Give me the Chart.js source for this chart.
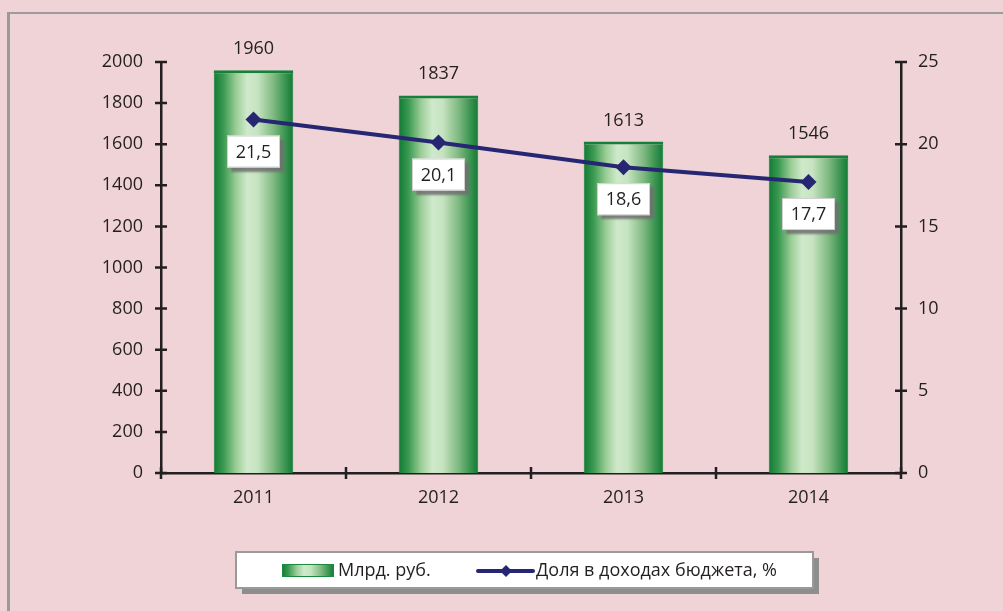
<!DOCTYPE html>
<html>
<head>
<meta charset="utf-8">
<script src="https://cdn.jsdelivr.net/npm/chart.js@4"></script>
<style>
html,body{margin:0;padding:0;background:#efd3d6;}
canvas{display:block;}
</style>
</head>
<body>
<canvas id="c" width="1003" height="611"></canvas>
<script>
const categories = ['2011', '2012', '2013', '2014'];
const billionsRub = [1960, 1837, 1613, 1546];
const sharePct = [21.5, 20.1, 18.6, 17.7];
const barLabel = 'Млрд. руб.';
const lineLabel = 'Доля в доходах бюджета, %';

const FONT = '"Open Sans", "Liberation Sans", sans-serif';
const FS = 18;
const TXT = '#231f20';
const AXIS = '#231f20';
const BG = '#efd3d6';
const NAVY = '#262673';
const BAR_PCT = 0.43;

function fmt(v){ return String(v).replace('.', ','); }

function barGradient(ctx, x0, x1){
  const g = ctx.createLinearGradient(x0, 0, x1, 0);
  g.addColorStop(0, '#117a35');
  g.addColorStop(0.12, '#399850');
  g.addColorStop(0.28, '#9acd96');
  g.addColorStop(0.42, '#cfe9cb');
  g.addColorStop(0.55, '#c6e4c0');
  g.addColorStop(0.75, '#80b982');
  g.addColorStop(0.9, '#3a9450');
  g.addColorStop(1, '#117a35');
  return g;
}

const bgPlugin = {
  id: 'bg',
  beforeDraw(chart){
    const c = chart.ctx;
    c.save();
    c.fillStyle = BG;
    c.fillRect(0, 0, chart.width, chart.height);
    c.fillStyle = '#9c9c9c';
    c.fillRect(7, 12, chart.width, 2);
    c.fillStyle = '#9a9a9a';
    c.fillRect(7, 12, 3, chart.height);
    c.restore();
  }
};

const ticksPlugin = {
  id: 'crossTicks',
  afterDraw(chart){
    const c = chart.ctx;
    const y = chart.scales.y, y1 = chart.scales.y1, x = chart.scales.x;
    const ca = chart.chartArea;
    c.save();
    c.strokeStyle = AXIS;
    c.lineWidth = 2.5;
    c.beginPath();
    y.ticks.forEach(t => { const p = y.getPixelForValue(t.value); c.moveTo(ca.left - 6, p); c.lineTo(ca.left + 6, p); });
    y1.ticks.forEach(t => { const p = y1.getPixelForValue(t.value); c.moveTo(ca.right - 6, p); c.lineTo(ca.right + 6, p); });
    const bounds = [ca.left, ca.right];
    for (let i = 0; i < categories.length - 1; i++) {
      bounds.push((x.getPixelForValue(i) + x.getPixelForValue(i + 1)) / 2);
    }
    bounds.forEach(p => { c.moveTo(p, ca.bottom - 6); c.lineTo(p, ca.bottom + 6); });
    c.stroke();
    c.restore();
  }
};

const labelsPlugin = {
  id: 'valueLabels',
  afterDatasetsDraw(chart){
    const c = chart.ctx;
    c.save();
    c.font = FS + 'px ' + FONT;
    c.fillStyle = TXT;
    c.textAlign = 'center';
    c.textBaseline = 'alphabetic';
    chart.getDatasetMeta(0).data.forEach((el, i) => {
      c.fillText(String(billionsRub[i]), el.x, el.y - 16);
    });
    chart.getDatasetMeta(1).data.forEach((el, i) => {
      const w = 53, h = 32;
      const bx = el.x - w / 2, by = el.y + 16;
      c.save();
      c.shadowColor = 'rgba(110,110,110,0.85)';
      c.shadowOffsetX = 4;
      c.shadowOffsetY = 4;
      c.shadowBlur = 2;
      c.fillStyle = '#ffffff';
      c.fillRect(bx, by, w, h);
      c.restore();
      c.strokeStyle = '#d0d0d0';
      c.lineWidth = 1;
      c.strokeRect(bx + 0.5, by + 0.5, w - 1, h - 1);
      c.fillStyle = TXT;
      c.textBaseline = 'middle';
      c.fillText(fmt(sharePct[i]), el.x, by + h / 2 + 1);
    });
    c.restore();
  }
};

const legendPlugin = {
  id: 'customLegend',
  afterDraw(chart){
    const c = chart.ctx;
    const ds = chart.data.datasets;
    c.save();
    c.fillStyle = '#8e8e8e';
    c.fillRect(242, 558, 577, 36);
    c.fillStyle = '#ffffff';
    c.fillRect(236, 552, 577, 36);
    c.strokeStyle = '#9a9a9a';
    c.lineWidth = 2;
    c.strokeRect(236, 552, 577, 36);
    c.fillStyle = barGradient(c, 282, 334);
    c.fillRect(282, 564, 52, 13);
    c.strokeStyle = '#1a8a3e';
    c.lineWidth = 1;
    c.strokeRect(282.5, 564.5, 51, 12);
    c.font = FS + 'px ' + FONT;
    c.fillStyle = TXT;
    c.textAlign = 'left';
    c.textBaseline = 'middle';
    c.fillText(ds[0].label, 338, 571);
    c.strokeStyle = NAVY;
    c.lineWidth = 4;
    c.lineCap = 'round';
    c.beginPath();
    c.moveTo(478, 571); c.lineTo(533, 571);
    c.stroke();
    c.fillStyle = NAVY;
    c.beginPath();
    c.moveTo(506, 565); c.lineTo(512, 571); c.lineTo(506, 577); c.lineTo(500, 571); c.closePath();
    c.fill();
    c.fillStyle = TXT;
    c.fillText(ds[1].label, 536, 571);
    c.restore();
  }
};

new Chart(document.getElementById('c'), {
  type: 'bar',
  data: {
    labels: categories,
    datasets: [
      {
        type: 'bar',
        label: barLabel,
        data: billionsRub,
        yAxisID: 'y',
        order: 1,
        categoryPercentage: 1,
        barPercentage: BAR_PCT,
        borderColor: '#15803a',
        borderWidth: {top: 3, left: 1, right: 1, bottom: 0},
        borderSkipped: false,
        backgroundColor(ctx){
          const ch = ctx.chart;
          const xs = ch.scales && ch.scales.x;
          if (!xs || ctx.dataIndex === undefined) return '#6fb070';
          const cx = xs.getPixelForValue(ctx.dataIndex);
          const w = xs.width / categories.length * BAR_PCT;
          if (!isFinite(cx) || !isFinite(w) || w <= 0) return '#6fb070';
          return barGradient(ch.ctx, cx - w / 2, cx + w / 2);
        }
      },
      {
        type: 'line',
        label: lineLabel,
        data: sharePct,
        yAxisID: 'y1',
        order: 0,
        borderColor: NAVY,
        backgroundColor: NAVY,
        borderWidth: 4,
        pointStyle: 'rectRot',
        pointRadius: 8,
        pointHoverRadius: 8,
        pointBorderWidth: 0,
        tension: 0
      }
    ]
  },
  options: {
    responsive: false,
    animation: false,
    devicePixelRatio: 1,
    layout: { padding: { top: 62, left: 0, right: 0, bottom: 0 } },
    plugins: {
      legend: { display: false },
      tooltip: { enabled: false },
      title: { display: false }
    },
    scales: {
      x: {
        offset: true,
        grid: { display: false, drawTicks: false },
        border: { display: true, color: AXIS, width: 2.5 },
        ticks: { color: TXT, font: { family: FONT, size: FS }, padding: 14 },
        afterFit(s){ s.height = 138; }
      },
      y: {
        position: 'left',
        min: 0, max: 2000,
        grid: { display: false, drawTicks: false },
        border: { display: true, color: AXIS, width: 2.5 },
        ticks: { stepSize: 200, color: TXT, font: { family: FONT, size: FS }, padding: 18,
                 callback: v => String(v) },
        afterFit(s){ s.width = 161; }
      },
      y1: {
        position: 'right',
        min: 0, max: 25,
        grid: { display: false, drawTicks: false },
        border: { display: true, color: AXIS, width: 2.5 },
        ticks: { stepSize: 5, color: TXT, font: { family: FONT, size: FS }, padding: 17,
                 callback: v => String(v) },
        afterFit(s){ s.width = 102; }
      }
    }
  },
  plugins: [bgPlugin, ticksPlugin, labelsPlugin, legendPlugin]
});
</script>
</body>
</html>
